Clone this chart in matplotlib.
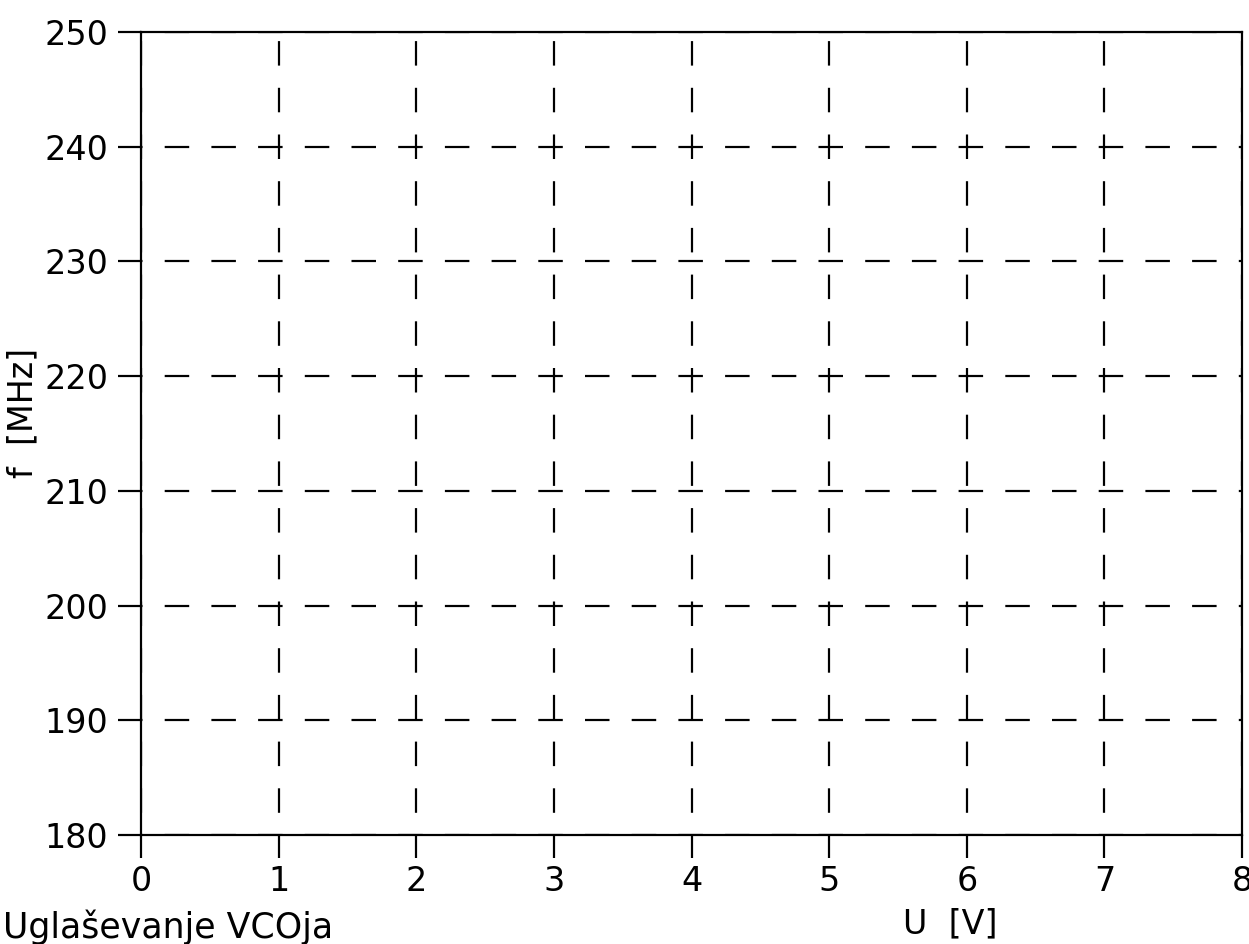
import matplotlib
matplotlib.use("Agg")
import matplotlib.pyplot as plt

# axis ranges / ticks
x_ticks = [0, 1, 2, 3, 4, 5, 6, 7, 8]
y_ticks = [180, 190, 200, 210, 220, 230, 240, 250]
x_label = "U  [V]"
y_label = "f  [MHz]"
title = "Uglaševanje VCOja"

plt.rcParams['font.family'] = ['DejaVu Sans']
plt.rcParams['lines.scale_dashes'] = False

px = 72 / 100  # points per pixel at dpi 100
lw = 2.2 * px

fig = plt.figure(figsize=(12.49, 9.44), dpi=100)
ax = fig.add_axes([0.1129, 0.1155, 0.9944 - 0.1129, 0.9661 - 0.1155])

ax.set_xlim(x_ticks[0], x_ticks[-1])
ax.set_ylim(y_ticks[0], y_ticks[-1])
ax.set_xticks(x_ticks)
ax.set_yticks(y_ticks)

# dashed grid, starts with a gap at the axes edge
on, off = 24.5 * px, 22.2 * px
ax.xaxis.grid(True, color='black', linewidth=lw, linestyle=(on, (on, off)))
ax.yaxis.grid(True, color='black', linewidth=lw, linestyle=(on - 1.5 * px, (on, off)))

for s in ax.spines.values():
    s.set_linewidth(lw)
ax.tick_params(direction='out', length=23 * px, width=lw, labelsize=24,
               colors='black')
ax.tick_params(axis='y', pad=7)
ax.tick_params(axis='x', pad=5)

ax.set_xlabel(x_label, fontsize=24)
ax.set_ylabel(y_label, fontsize=24)
ax.xaxis.set_label_coords(0.735, -0.0897)
ax.yaxis.set_label_coords(-0.092, 0.5255)

fig.text(3 / 1249, 1 - 938 / 944, title, fontsize=25, va='baseline', ha='left')

fig.savefig("out.png", dpi=100)
